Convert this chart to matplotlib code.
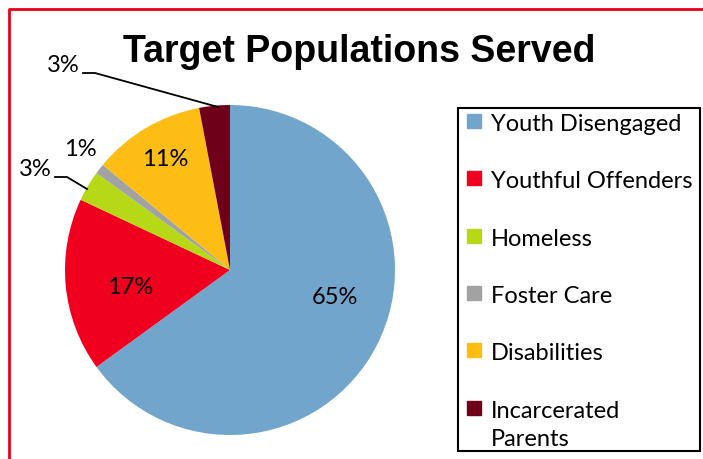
import matplotlib.pyplot as plt
from matplotlib.patches import Rectangle
from matplotlib.lines import Line2D

categories = ["Youth Disengaged", "Youthful Offenders", "Homeless",
              "Foster Care", "Disabilities", "Incarcerated\nParents"]
values = [65, 17, 3, 1, 11, 3]
colors = ["#72A5CC", "#F0001E", "#B6D816", "#A2A2A2", "#FDBD14", "#6E0019"]

W, H = 703, 459
fig = plt.figure(figsize=(W / 100, H / 100), dpi=100)

# pie centre / radius in pixels (from top-left)
cx, cy, r = 230, 270, 165
ax = fig.add_axes([(cx - r) / W, (H - cy - r) / H, 2 * r / W, 2 * r / H])
ax.pie(values, colors=colors, startangle=90, counterclock=False, radius=1,
       wedgeprops=dict(linewidth=0))
ax.set_xlim(-1, 1)
ax.set_ylim(-1, 1)
ax.set_aspect("equal")
ax.axis("off")


def px(x, y):
    return (x - cx) / r, (cy - y) / r


# percentage labels (pixel positions of label centres)
label_pos = [(335, 297), (130, 288), (35, 170), (80, 150), (165, 160), (63, 65)]
font = ["Lato", "DejaVu Sans"]
for v, (lx, ly) in zip(values, label_pos):
    ax.text(*px(lx, ly), f"{v}%", ha="center", va="center", fontsize=17,
            family=font, clip_on=False)

# leader lines for the small slices
for pts in ([(55, 177), (67, 177), (87, 189)], [(83, 73), (95, 73), (218, 107)]):
    xs, ys = zip(*[px(*p) for p in pts])
    ax.plot(xs, ys, color="black", lw=1.3, clip_on=False)

fig.text(359 / W, 1 - 52 / H, "Target Populations Served", ha="center", va="center",
         fontsize=27, fontweight="bold", family=["Liberation Sans Narrow", "Liberation Sans"])

# legend drawn by hand
fig.patches.append(Rectangle((458 / W, 1 - 451 / H), 242 / W, 343 / H, transform=fig.transFigure,
                             fill=False, edgecolor="black", lw=1.5, zorder=5))
y0, step = 131, 57.3
for i, (lab, c) in enumerate(zip(categories, colors)):
    y = y0 + i * step
    fig.patches.append(Rectangle((467 / W, 1 - (y - 3) / H), 14 / W, 14 / H,
                                 transform=fig.transFigure, color=c))
    for k, line in enumerate(lab.split("\n")):
        fig.text(491 / W, 1 - (y + 28 * k) / H, line, ha="left", va="baseline",
                 fontsize=17, family=font)

# red outer border (left and top)
fig.lines.append(Line2D([9 / W, 9 / W, 1], [0, 1 - 9 / H, 1 - 9 / H],
                        transform=fig.transFigure, color="#E8001C", lw=2))

fig.savefig("out.png", dpi=100)
